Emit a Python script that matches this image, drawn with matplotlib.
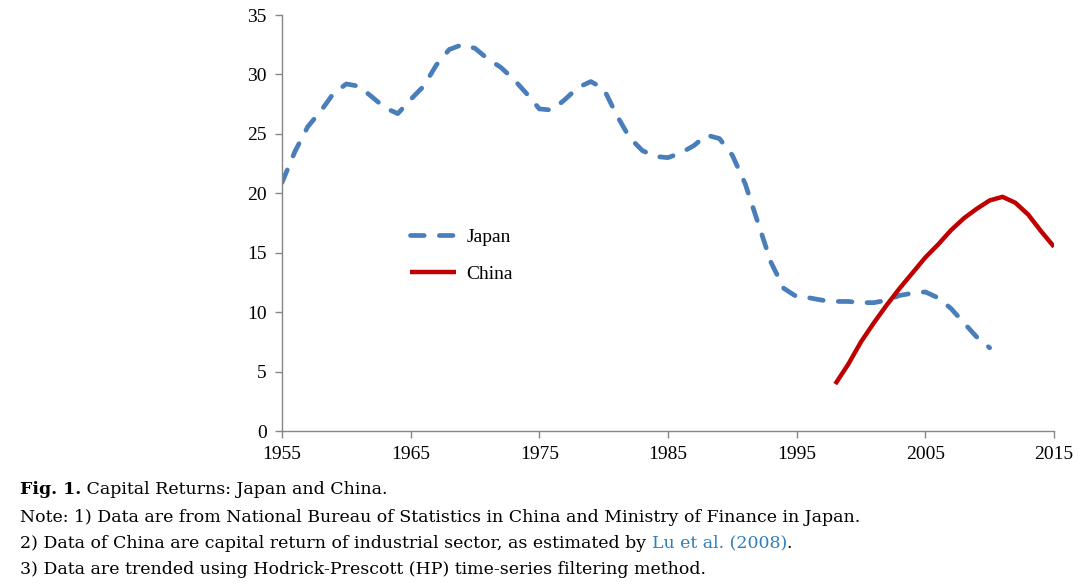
import matplotlib
matplotlib.use("Agg")
import matplotlib.pyplot as plt

years_japan = list(range(1955, 2011))
japan = [20.9, 23.5, 25.6, 26.9, 28.4, 29.2, 29.0, 28.1, 27.2, 26.7,
         27.9, 29.0, 30.8, 32.1, 32.5, 32.2, 31.3, 30.6, 29.6, 28.4,
         27.1, 27.0, 27.9, 28.9, 29.4, 28.8, 26.6, 24.7, 23.6, 23.1,
         23.0, 23.4, 24.0, 24.9, 24.6, 23.2, 20.8, 17.5, 14.2, 12.0,
         11.3, 11.2, 11.0, 10.9, 10.9, 10.8, 10.8, 11.0, 11.4, 11.6,
         11.7, 11.2, 10.3, 9.1, 7.9, 7.0]
years_china = list(range(1998, 2016))
china = [3.95, 5.6, 7.5, 9.1, 10.6, 12.0, 13.3, 14.6, 15.7, 16.9,
         17.9, 18.7, 19.4, 19.7, 19.2, 18.2, 16.8, 15.5]

xticks = [1955, 1965, 1975, 1985, 1995, 2005, 2015]
yticks = [0, 5, 10, 15, 20, 25, 30, 35]

caption_title = "Fig. 1."
caption_rest = " Capital Returns: Japan and China."
note1 = "Note: 1) Data are from National Bureau of Statistics in China and Ministry of Finance in Japan."
note2_a = "2) Data of China are capital return of industrial sector, as estimated by "
note2_link = "Lu et al. (2008)"
note2_b = "."
note3 = "3) Data are trended using Hodrick-Prescott (HP) time-series filtering method."

plt.rcParams['font.family'] = ['Liberation Serif', 'DejaVu Serif']
CAP_FAMILY = ['DejaVu Serif']

W, H = 1085, 588
fig = plt.figure(figsize=(W / 100, H / 100), dpi=100)
ax = fig.add_axes([282 / W, 1 - 431 / H, (1054 - 282) / W, (431 - 15) / H])

ax.plot(years_japan, japan, color='#4a7ebb', lw=3.4, ls=(0, (2.9, 3.2)),
        dash_capstyle='round', solid_joinstyle='round', label='Japan')
ax.plot(years_china, china, color='#c00000', lw=3.2, solid_capstyle='butt',
        solid_joinstyle='round', label='China')

ax.set_xlim(1955, 2015)
ax.set_ylim(0, 35)
ax.set_xticks(xticks)
ax.set_yticks(yticks)
for s in ['top', 'right']:
    ax.spines[s].set_visible(False)
for s in ['left', 'bottom']:
    ax.spines[s].set_color('#868686')
    ax.spines[s].set_linewidth(1.0)
ax.tick_params(axis='both', direction='out', length=5, width=1.0,
               color='#868686', labelsize=14, labelcolor='black')
ax.tick_params(axis='x', pad=6)
ax.tick_params(axis='y', pad=6)

leg = ax.legend(loc='center left', bbox_to_anchor=(410 / W, 1 - 255.5 / H),
                bbox_transform=fig.transFigure, frameon=False, fontsize=14,
                handlelength=2.35, handletextpad=0.55, labelspacing=1.0,
                borderpad=0, borderaxespad=0)

ys = [490, 517, 543, 569]
fig.canvas.draw()
r = fig.canvas.get_renderer()

# fit caption size so that the note line spans the same width as in the reference
probe = fig.text(20 / W, 0.5, note1, fontsize=10, family=CAP_FAMILY)
pw = probe.get_window_extent(r).width
probe.remove()
cap_size = 10 * (862 - 20) / pw

t = fig.text(20 / W, 1 - ys[0] / H, caption_title, fontsize=cap_size,
             fontweight='bold', va='center', ha='left', family=CAP_FAMILY)
bb = t.get_window_extent(r)
fig.text(bb.x1 / W, 1 - ys[0] / H, caption_rest, fontsize=cap_size,
         va='center', ha='left', family=CAP_FAMILY)
fig.text(20 / W, 1 - ys[1] / H, note1, fontsize=cap_size, va='center', ha='left',
         family=CAP_FAMILY)
t2 = fig.text(20 / W, 1 - ys[2] / H, note2_a, fontsize=cap_size, va='center', ha='left',
              family=CAP_FAMILY)
bb2 = t2.get_window_extent(r)
t3 = fig.text(bb2.x1 / W, 1 - ys[2] / H, note2_link, fontsize=cap_size,
              va='center', ha='left', color='#2f7fba', family=CAP_FAMILY)
bb3 = t3.get_window_extent(r)
fig.text(bb3.x1 / W, 1 - ys[2] / H, note2_b, fontsize=cap_size, va='center', ha='left',
         family=CAP_FAMILY)
fig.text(20 / W, 1 - ys[3] / H, note3, fontsize=cap_size, va='center', ha='left',
         family=CAP_FAMILY)

fig.savefig('out.png', dpi=100)
